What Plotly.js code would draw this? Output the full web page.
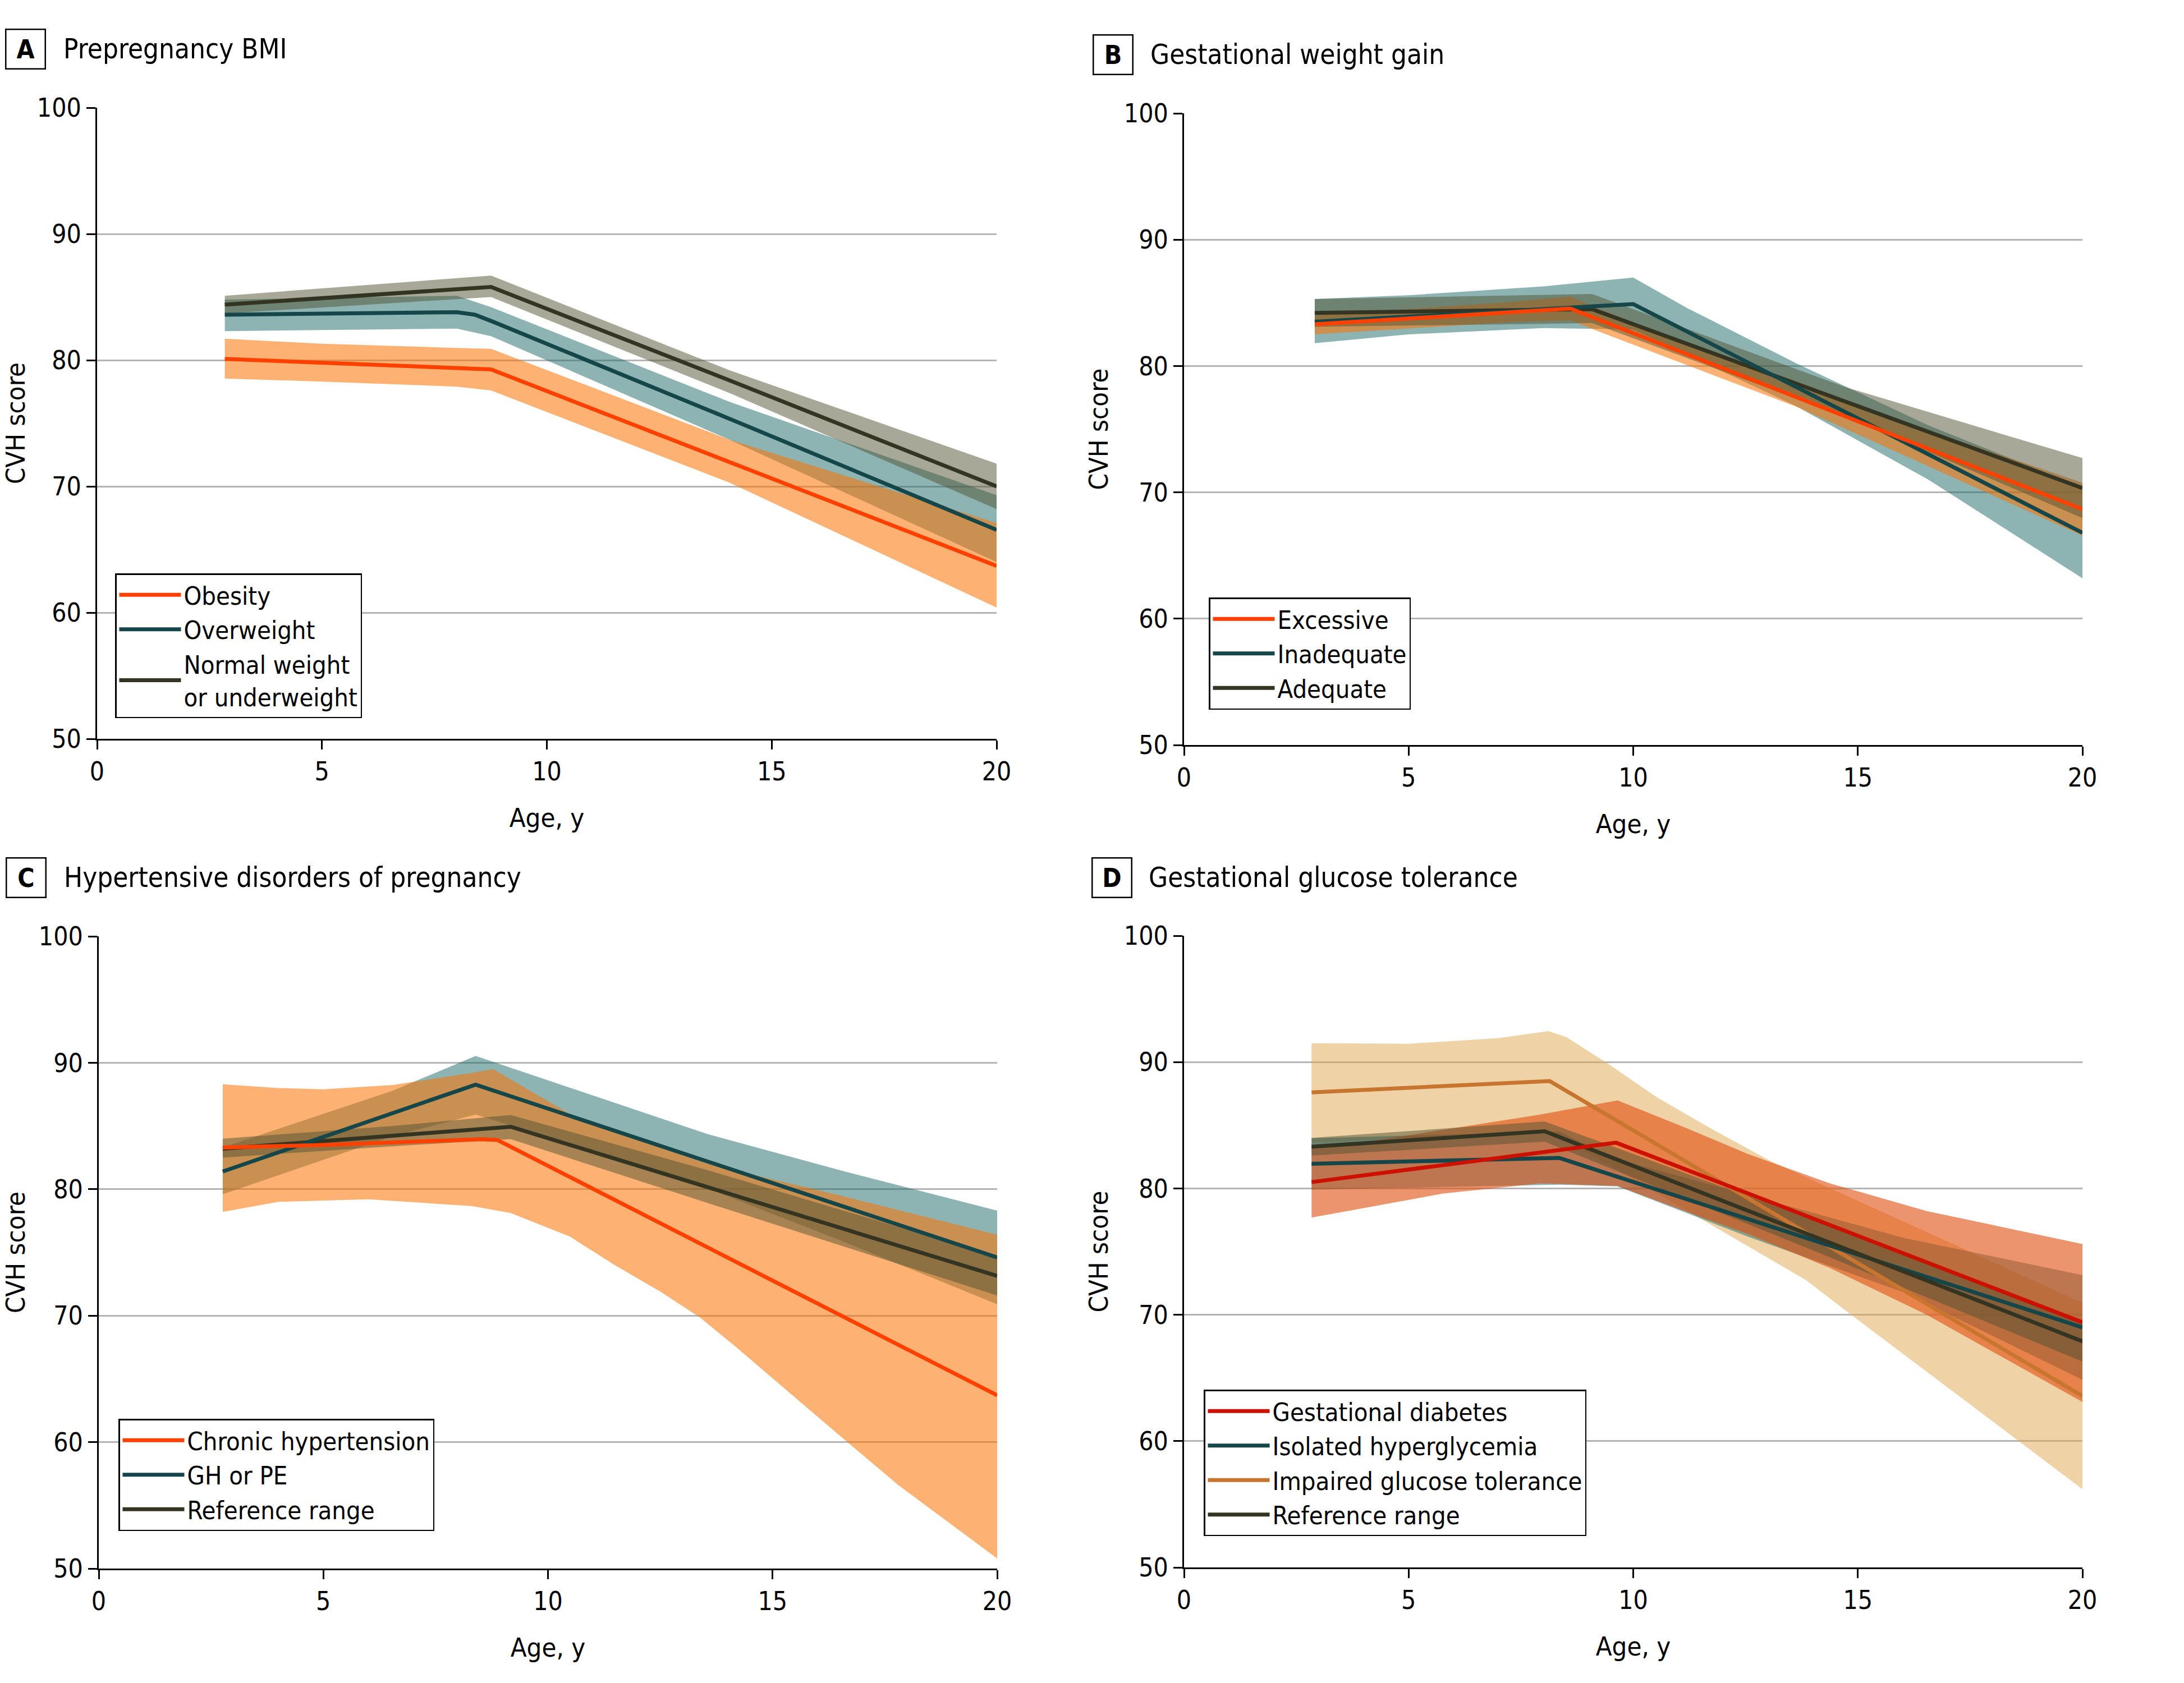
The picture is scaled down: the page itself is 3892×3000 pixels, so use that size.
<!DOCTYPE html>
<html><head><meta charset="utf-8">
<script src="https://cdn.plot.ly/plotly-3.0.1.min.js"></script>
<style>html,body{margin:0;padding:0;background:#fff;} #chart{width:3892px;height:3000px;}</style>
</head><body><div id="chart"></div>
<script>
// ================= DATA =================
// ---- Panel A: Prepregnancy BMI ----
const A_obesity_age = [2.84, 8.76, 20];
const A_obesity_mean = [80.1, 79.27, 63.7];
const A_obesity_upper_age = [2.84, 5, 8, 8.76, 14.06, 20];
const A_obesity_upper = [81.7, 81.3, 80.97, 80.9, 73.7, 67.1];
const A_obesity_lower_age = [2.84, 5, 8, 8.76, 14.06, 20];
const A_obesity_lower = [78.55, 78.3, 77.9, 77.6, 70.3, 60.4];

const A_overweight_age = [2.84, 8.0, 8.4, 8.8, 14.06, 20];
const A_overweight_mean = [83.6, 83.8, 83.6, 83.05, 75.36, 66.55];
const A_overweight_band_age = [2.84, 8.0, 8.76, 14.06, 20];
const A_overweight_upper = [84.8, 85.1, 84.2, 76.7, 69.3];
const A_overweight_lower = [82.3, 82.5, 81.9, 73.7, 64.0];

const A_normal_age = [2.84, 8.76, 14.06, 20];
const A_normal_mean = [84.4, 85.8, 78.4, 70.0];
const A_normal_upper = [85.1, 86.7, 79.2, 71.8];
const A_normal_lower = [83.7, 85.0, 77.4, 68.2];

// ---- Panel B: Gestational weight gain ----
const B_excessive_age = [2.91, 8.6, 20];
const B_excessive_mean = [83.3, 84.55, 68.66];
const B_excessive_band_age = [2.91, 7.37, 8.6, 9.04, 13.64, 20];
const B_excessive_upper = [84.0, 85.1, 85.5, 84.8, 78.4, 70.76];
const B_excessive_lower = [82.5, 83.5, 83.6, 82.99, 76.76, 66.56];

const B_inadequate_age = [2.91, 10.0, 20];
const B_inadequate_mean = [83.5, 84.9, 66.8];
const B_inadequate_band_age = [2.91, 5, 8, 10.0, 11.22, 13.64, 16.57, 20];
const B_inadequate_upper = [85.3, 85.6, 86.3, 87.0, 84.55, 80.2, 75.3, 70.4];
const B_inadequate_lower = [81.8, 82.5, 83.0, 82.9, 80.85, 76.8, 71.0, 63.2];

const B_adequate_age = [2.91, 9.08, 20];
const B_adequate_mean = [84.2, 84.5, 70.34];
const B_adequate_band_age = [2.91, 9.08, 14.73, 20];
const B_adequate_upper = [85.3, 85.7, 78.32, 72.71];
const B_adequate_lower = [83.1, 83.4, 76.0, 67.96];

// ---- Panel C: Hypertensive disorders of pregnancy ----
const C_chronic_age = [2.76, 5, 8.5, 8.87, 20];
const C_chronic_mean = [83.3, 83.5, 83.95, 83.9, 63.7];
const C_chronic_upper_age = [2.76, 4, 5, 6.55, 8.3, 8.78, 10.75, 13.56, 16.62, 20];
const C_chronic_upper = [88.3, 88.0, 87.9, 88.24, 89.2, 89.5, 85.4, 82.0, 79.4, 76.4];
const C_chronic_lower_age = [2.76, 4, 6, 8.3, 9.17, 10.49, 11.45, 12.5, 13.38, 14.17, 16.4, 17.8, 20];
const C_chronic_lower = [78.2, 79.0, 79.2, 78.67, 78.12, 76.25, 74.08, 71.9, 69.87, 67.57, 60.8, 56.6, 50.8];

const C_ghpe_age = [2.76, 8.39, 20];
const C_ghpe_mean = [81.4, 88.27, 74.6];
const C_ghpe_band_age = [2.76, 6.55, 8.39, 10.93, 13.56, 16.62, 20];
const C_ghpe_upper = [83.3, 87.8, 90.54, 87.5, 84.35, 81.39, 78.3];
const C_ghpe_lower = [79.6, 84.2, 85.9, 83.1, 80.05, 75.8, 70.9];

const C_ref_age = [2.76, 9.17, 20];
const C_ref_mean = [83.2, 84.94, 73.14];
const C_ref_band_age = [2.76, 6.55, 9.17, 13.56, 20];
const C_ref_upper = [84.0, 85.0, 85.87, 81.5, 74.7];
const C_ref_lower = [82.5, 83.4, 83.96, 78.9, 71.6];

// ---- Panel D: Gestational glucose tolerance ----
const D_gd_age = [2.84, 9.62, 20];
const D_gd_mean = [80.5, 83.62, 69.4];
const D_gd_upper_age = [2.84, 3.62, 6.1, 7.93, 9.65, 11.15, 12.55, 14.38, 16.53, 20];
const D_gd_upper = [83.3, 83.45, 84.83, 85.85, 86.97, 84.83, 82.73, 80.4, 78.21, 75.6];
const D_gd_lower_age = [2.84, 3.62, 5.77, 7.92, 9.65, 11.15, 12.55, 14.38, 16.53, 20];
const D_gd_lower = [77.7, 78.2, 79.6, 80.4, 80.2, 78.2, 76.4, 73.7, 70.0, 63.1];

const D_iso_age = [2.84, 8.35, 20];
const D_iso_mean = [81.95, 82.42, 69.0];
const D_iso_band_age = [2.84, 8.35, 9.65, 12.55, 16.0, 20];
const D_iso_upper = [83.97, 84.5, 82.3, 79.5, 76.1, 73.14];
const D_iso_lower = [79.9, 80.3, 80.16, 76.19, 71.8, 64.85];

const D_igt_age = [2.84, 8.14, 20];
const D_igt_mean = [87.6, 88.5, 63.57];
const D_igt_upper_age = [2.84, 5, 7, 8.11, 8.5, 9.43, 10.51, 11.8, 13.09, 20];
const D_igt_upper = [91.5, 91.45, 91.9, 92.45, 92.0, 89.9, 87.25, 84.6, 82.1, 70.95];
const D_igt_lower_age = [2.84, 8.14, 9.43, 10.51, 13.84, 14.87, 20];
const D_igt_lower = [83.6, 84.5, 81.9, 79.65, 72.76, 69.95, 56.2];

const D_ref_age = [2.84, 8.03, 20];
const D_ref_mean = [83.3, 84.52, 67.9];
const D_ref_band_age = [2.84, 8.03, 14.0, 20];
const D_ref_upper = [84.0, 85.3, 77.5, 69.4];
const D_ref_lower = [82.6, 83.7, 75.1, 66.3];

const xTicks = [0, 5, 10, 15, 20];
const yTicks = [50, 60, 70, 80, 90, 100];
const panelLetters = ['A', 'B', 'C', 'D'];
const panelTitles = ['Prepregnancy BMI', 'Gestational weight gain', 'Hypertensive disorders of pregnancy', 'Gestational glucose tolerance'];

// ================= STYLE =================
const W = 3892, H = 3000;
const FONT = '"DejaVu Sans Condensed", "Liberation Sans Narrow", "DejaVu Sans", sans-serif';
const RED_LINE = '#FF4000', RED_FILL = 'rgba(251,115,0,0.55)';
const TEAL_LINE = '#14464A', TEAL_FILL = 'rgba(27,105,103,0.5)';
const OLIVE_LINE = '#343422', GRAY_FILL = 'rgba(81,81,51,0.5)';
const GD_LINE = '#CC1100', GD_FILL = 'rgba(223,77,13,0.6)';
const IGT_LINE = '#C8752F', IGT_FILL = 'rgba(223,167,77,0.5)';
const LINE_W = 7;
const px = v => v / W, py = v => 1 - v / H;

const traces = [];
function band(ax, upAge, up, lowAge, low, color) {
  traces.push({
    type: 'scatter', mode: 'lines', xaxis: 'x' + ax, yaxis: 'y' + ax,
    x: upAge.concat(lowAge.slice().reverse()),
    y: up.concat(low.slice().reverse()),
    fill: 'toself', fillcolor: color, line: {width: 0, color: 'rgba(0,0,0,0)'},
    showlegend: false, hoverinfo: 'skip'
  });
}
function line(ax, leg, rank, name, age, mean, color) {
  traces.push({
    type: 'scatter', mode: 'lines', xaxis: 'x' + ax, yaxis: 'y' + ax,
    x: age, y: mean, name: name, legend: leg, legendrank: rank,
    line: {color: color, width: LINE_W}
  });
}

// Panel A (axis suffix '')
band('', A_overweight_band_age, A_overweight_upper, A_overweight_band_age, A_overweight_lower, TEAL_FILL);
band('', A_obesity_upper_age, A_obesity_upper, A_obesity_lower_age, A_obesity_lower, RED_FILL);
band('', A_normal_age, A_normal_upper, A_normal_age, A_normal_lower, GRAY_FILL);
line('', 'legend', 3, 'Normal weight<br>or underweight', A_normal_age, A_normal_mean, OLIVE_LINE);
line('', 'legend', 2, 'Overweight', A_overweight_age, A_overweight_mean, TEAL_LINE);
line('', 'legend', 1, 'Obesity', A_obesity_age, A_obesity_mean, RED_LINE);

// Panel B
band('2', B_inadequate_band_age, B_inadequate_upper, B_inadequate_band_age, B_inadequate_lower, TEAL_FILL);
band('2', B_excessive_band_age, B_excessive_upper, B_excessive_band_age, B_excessive_lower, RED_FILL);
band('2', B_adequate_band_age, B_adequate_upper, B_adequate_band_age, B_adequate_lower, GRAY_FILL);
line('2', 'legend2', 3, 'Adequate', B_adequate_age, B_adequate_mean, OLIVE_LINE);
line('2', 'legend2', 2, 'Inadequate', B_inadequate_age, B_inadequate_mean, TEAL_LINE);
line('2', 'legend2', 1, 'Excessive', B_excessive_age, B_excessive_mean, RED_LINE);

// Panel C
band('3', C_ghpe_band_age, C_ghpe_upper, C_ghpe_band_age, C_ghpe_lower, TEAL_FILL);
band('3', C_chronic_upper_age, C_chronic_upper, C_chronic_lower_age, C_chronic_lower, RED_FILL);
band('3', C_ref_band_age, C_ref_upper, C_ref_band_age, C_ref_lower, GRAY_FILL);
line('3', 'legend3', 3, 'Reference range', C_ref_age, C_ref_mean, OLIVE_LINE);
line('3', 'legend3', 2, 'GH or PE', C_ghpe_age, C_ghpe_mean, TEAL_LINE);
line('3', 'legend3', 1, 'Chronic hypertension', C_chronic_age, C_chronic_mean, RED_LINE);

// Panel D
band('4', D_igt_upper_age, D_igt_upper, D_igt_lower_age, D_igt_lower, IGT_FILL);
band('4', D_iso_band_age, D_iso_upper, D_iso_band_age, D_iso_lower, TEAL_FILL);
band('4', D_gd_upper_age, D_gd_upper, D_gd_lower_age, D_gd_lower, GD_FILL);
band('4', D_ref_band_age, D_ref_upper, D_ref_band_age, D_ref_lower, GRAY_FILL);
line('4', 'legend4', 3, 'Impaired glucose tolerance', D_igt_age, D_igt_mean, IGT_LINE);
line('4', 'legend4', 2, 'Isolated hyperglycemia', D_iso_age, D_iso_mean, TEAL_LINE);
line('4', 'legend4', 4, 'Reference range', D_ref_age, D_ref_mean, OLIVE_LINE);
line('4', 'legend4', 1, 'Gestational diabetes', D_gd_age, D_gd_mean, GD_LINE);

// ================= LAYOUT =================
function xAxis(domain, anchor) {
  return {
    domain: domain, anchor: anchor, range: [0, 20], tickvals: xTicks,
    showline: true, linecolor: '#000', linewidth: 3, mirror: false,
    ticks: 'outside', ticklen: 16, tickwidth: 3, tickcolor: '#000',
    showgrid: false, zeroline: false, fixedrange: true,
    tickfont: {family: FONT, size: 46, color: '#000'},
    title: {text: 'Age, y', font: {family: FONT, size: 47, color: '#000'}, standoff: 40}
  };
}
function yAxis(domain, anchor) {
  return {
    domain: domain, anchor: anchor, range: [50, 100], tickvals: yTicks,
    showline: true, linecolor: '#000', linewidth: 3,
    ticks: 'outside', ticklen: 16, tickwidth: 3, tickcolor: '#000',
    showgrid: true, gridcolor: '#B4B4B4', gridwidth: 3, zeroline: false, fixedrange: true,
    tickfont: {family: FONT, size: 46, color: '#000'},
    title: {text: 'CVH score', font: {family: FONT, size: 47, color: '#000'}, standoff: 14}
  };
}
function legendAt(xp, yp) {
  return {
    x: px(xp), y: py(yp), xanchor: 'left', yanchor: 'top',
    bgcolor: '#fff', bordercolor: '#000', borderwidth: 2.5,
    font: {family: FONT, size: 45, color: '#000'},
    itemwidth: 110, traceorder: 'normal', tracegroupgap: 0
  };
}

const titlePos = [
  {bx: 45, by: 87, tx: 111},
  {bx: 1983, by: 98, tx: 2048},
  {bx: 46, by: 1565, tx: 112},
  {bx: 1982, by: 1564, tx: 2045}
];
const annotations = [];
titlePos.forEach((p, i) => {
  annotations.push({
    xref: 'paper', yref: 'paper', x: px(p.bx), y: py(p.by), xanchor: 'center', yanchor: 'middle',
    text: '<b>' + panelLetters[i] + '</b>', showarrow: false,
    font: {family: FONT, size: 46, color: '#000'},
    bordercolor: '#000', borderwidth: 2.5, borderpad: 0, width: 68, height: 68, bgcolor: '#fff'
  });
  annotations.push({
    xref: 'paper', yref: 'paper', x: px(p.tx), y: py(p.by), xanchor: 'left', yanchor: 'middle',
    text: panelTitles[i], showarrow: false,
    font: {family: FONT, size: 49, color: '#000'}
  });
});

const layout = {
  width: W, height: H, margin: {l: 0, r: 0, t: 0, b: 0},
  paper_bgcolor: '#fff', plot_bgcolor: '#fff', font: {family: FONT, color: '#000'},
  xaxis: xAxis([px(173), px(1776)], 'y'),
  yaxis: yAxis([py(1317), py(192)], 'x'),
  xaxis2: xAxis([px(2110), px(3711)], 'y2'),
  yaxis2: yAxis([py(1328), py(202)], 'x2'),
  xaxis3: xAxis([px(176), px(1777)], 'y3'),
  yaxis3: yAxis([py(2796), py(1669)], 'x3'),
  xaxis4: xAxis([px(2110), px(3711)], 'y4'),
  yaxis4: yAxis([py(2794), py(1668)], 'x4'),
  legend: legendAt(205, 1022),
  legend2: legendAt(2154, 1065),
  legend3: legendAt(211, 2529),
  legend4: legendAt(2145, 2477),
  annotations: annotations,
  showlegend: true
};

Plotly.newPlot('chart', traces, layout, {displayModeBar: false, staticPlot: true});
</script>
</body></html>
